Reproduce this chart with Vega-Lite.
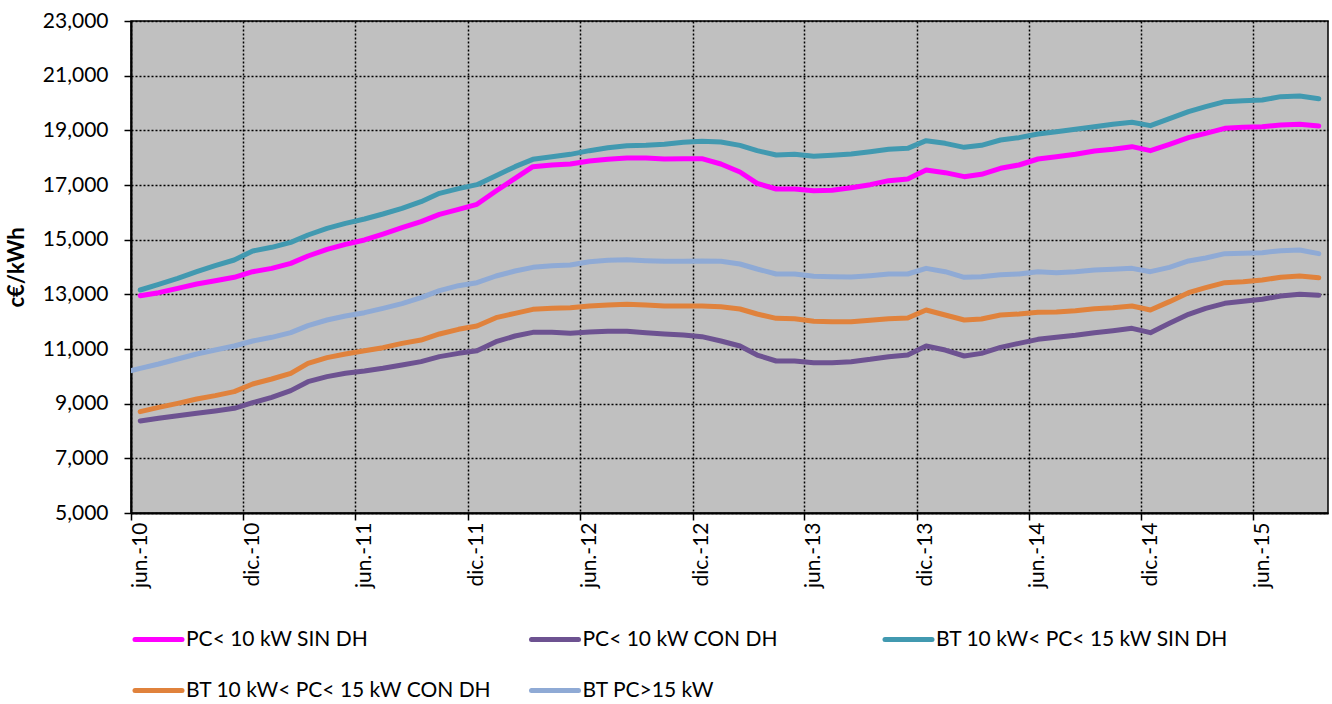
{
"$schema": "https://vega.github.io/schema/vega-lite/v6.json",
"width": 1197, "height": 492,
"autosize": {"type": "none"},
"padding": {"left": 131, "top": 21, "right": 4, "bottom": 191},
"background": "white",
"config": {"font": "Lato", "view": {"fill": "#C0C0C0", "stroke": "#000", "strokeWidth": 1.5},
  "legend": {"orient": "none", "title": null, "direction": "horizontal", "gridAlign": "each", "columnPadding": 28.5, "rowPadding": 15,
    "symbolType": "stroke", "symbolSize": 2209, "symbolStrokeWidth": 5, "labelFontSize": 21, "labelColor": "#000", "labelOffset": 1.5, "labelLimit": 900}},
"datasets": {"rows": [
{"m":"2010-06-16","s":"PC< 10 kW SIN DH","v":12951},{"m":"2010-07-16","s":"PC< 10 kW SIN DH","v":13061},{"m":"2010-08-16","s":"PC< 10 kW SIN DH","v":13220},{"m":"2010-09-16","s":"PC< 10 kW SIN DH","v":13378},{"m":"2010-10-16","s":"PC< 10 kW SIN DH","v":13500},{"m":"2010-11-16","s":"PC< 10 kW SIN DH","v":13622},{"m":"2010-12-16","s":"PC< 10 kW SIN DH","v":13829},{"m":"2011-01-16","s":"PC< 10 kW SIN DH","v":13951},{"m":"2011-02-16","s":"PC< 10 kW SIN DH","v":14134},{"m":"2011-03-16","s":"PC< 10 kW SIN DH","v":14402},{"m":"2011-04-16","s":"PC< 10 kW SIN DH","v":14646},{"m":"2011-05-16","s":"PC< 10 kW SIN DH","v":14829},{"m":"2011-06-16","s":"PC< 10 kW SIN DH","v":14988},{"m":"2011-07-16","s":"PC< 10 kW SIN DH","v":15207},{"m":"2011-08-16","s":"PC< 10 kW SIN DH","v":15439},{"m":"2011-09-16","s":"PC< 10 kW SIN DH","v":15659},{"m":"2011-10-16","s":"PC< 10 kW SIN DH","v":15927},{"m":"2011-11-16","s":"PC< 10 kW SIN DH","v":16110},{"m":"2011-12-16","s":"PC< 10 kW SIN DH","v":16293},{"m":"2012-01-16","s":"PC< 10 kW SIN DH","v":16780},{"m":"2012-02-16","s":"PC< 10 kW SIN DH","v":17244},{"m":"2012-03-16","s":"PC< 10 kW SIN DH","v":17671},{"m":"2012-04-16","s":"PC< 10 kW SIN DH","v":17732},{"m":"2012-05-16","s":"PC< 10 kW SIN DH","v":17768},{"m":"2012-06-16","s":"PC< 10 kW SIN DH","v":17878},{"m":"2012-07-16","s":"PC< 10 kW SIN DH","v":17939},{"m":"2012-08-16","s":"PC< 10 kW SIN DH","v":17988},{"m":"2012-09-16","s":"PC< 10 kW SIN DH","v":17988},{"m":"2012-10-16","s":"PC< 10 kW SIN DH","v":17951},{"m":"2012-11-16","s":"PC< 10 kW SIN DH","v":17963},{"m":"2012-12-16","s":"PC< 10 kW SIN DH","v":17963},{"m":"2013-01-16","s":"PC< 10 kW SIN DH","v":17768},{"m":"2013-02-16","s":"PC< 10 kW SIN DH","v":17476},{"m":"2013-03-16","s":"PC< 10 kW SIN DH","v":17061},{"m":"2013-04-16","s":"PC< 10 kW SIN DH","v":16854},{"m":"2013-05-16","s":"PC< 10 kW SIN DH","v":16854},{"m":"2013-06-16","s":"PC< 10 kW SIN DH","v":16793},{"m":"2013-07-16","s":"PC< 10 kW SIN DH","v":16805},{"m":"2013-08-16","s":"PC< 10 kW SIN DH","v":16902},{"m":"2013-09-16","s":"PC< 10 kW SIN DH","v":17012},{"m":"2013-10-16","s":"PC< 10 kW SIN DH","v":17159},{"m":"2013-11-16","s":"PC< 10 kW SIN DH","v":17220},{"m":"2013-12-16","s":"PC< 10 kW SIN DH","v":17549},{"m":"2014-01-16","s":"PC< 10 kW SIN DH","v":17451},{"m":"2014-02-16","s":"PC< 10 kW SIN DH","v":17305},{"m":"2014-03-16","s":"PC< 10 kW SIN DH","v":17390},{"m":"2014-04-16","s":"PC< 10 kW SIN DH","v":17610},{"m":"2014-05-16","s":"PC< 10 kW SIN DH","v":17732},{"m":"2014-06-16","s":"PC< 10 kW SIN DH","v":17951},{"m":"2014-07-16","s":"PC< 10 kW SIN DH","v":18037},{"m":"2014-08-16","s":"PC< 10 kW SIN DH","v":18122},{"m":"2014-09-16","s":"PC< 10 kW SIN DH","v":18244},{"m":"2014-10-16","s":"PC< 10 kW SIN DH","v":18305},{"m":"2014-11-16","s":"PC< 10 kW SIN DH","v":18402},{"m":"2014-12-16","s":"PC< 10 kW SIN DH","v":18256},{"m":"2015-01-16","s":"PC< 10 kW SIN DH","v":18488},{"m":"2015-02-16","s":"PC< 10 kW SIN DH","v":18732},{"m":"2015-03-16","s":"PC< 10 kW SIN DH","v":18890},{"m":"2015-04-16","s":"PC< 10 kW SIN DH","v":19073},{"m":"2015-05-16","s":"PC< 10 kW SIN DH","v":19110},{"m":"2015-06-16","s":"PC< 10 kW SIN DH","v":19134},{"m":"2015-07-16","s":"PC< 10 kW SIN DH","v":19195},{"m":"2015-08-16","s":"PC< 10 kW SIN DH","v":19220},{"m":"2015-09-16","s":"PC< 10 kW SIN DH","v":19159},
{"m":"2010-06-16","s":"PC< 10 kW CON DH","v":8366},{"m":"2010-07-16","s":"PC< 10 kW CON DH","v":8463},{"m":"2010-08-16","s":"PC< 10 kW CON DH","v":8561},{"m":"2010-09-16","s":"PC< 10 kW CON DH","v":8646},{"m":"2010-10-16","s":"PC< 10 kW CON DH","v":8732},{"m":"2010-11-16","s":"PC< 10 kW CON DH","v":8829},{"m":"2010-12-16","s":"PC< 10 kW CON DH","v":9037},{"m":"2011-01-16","s":"PC< 10 kW CON DH","v":9232},{"m":"2011-02-16","s":"PC< 10 kW CON DH","v":9476},{"m":"2011-03-16","s":"PC< 10 kW CON DH","v":9805},{"m":"2011-04-16","s":"PC< 10 kW CON DH","v":9988},{"m":"2011-05-16","s":"PC< 10 kW CON DH","v":10110},{"m":"2011-06-16","s":"PC< 10 kW CON DH","v":10195},{"m":"2011-07-16","s":"PC< 10 kW CON DH","v":10293},{"m":"2011-08-16","s":"PC< 10 kW CON DH","v":10415},{"m":"2011-09-16","s":"PC< 10 kW CON DH","v":10537},{"m":"2011-10-16","s":"PC< 10 kW CON DH","v":10720},{"m":"2011-11-16","s":"PC< 10 kW CON DH","v":10841},{"m":"2011-12-16","s":"PC< 10 kW CON DH","v":10939},{"m":"2012-01-16","s":"PC< 10 kW CON DH","v":11268},{"m":"2012-02-16","s":"PC< 10 kW CON DH","v":11476},{"m":"2012-03-16","s":"PC< 10 kW CON DH","v":11610},{"m":"2012-04-16","s":"PC< 10 kW CON DH","v":11610},{"m":"2012-05-16","s":"PC< 10 kW CON DH","v":11573},{"m":"2012-06-16","s":"PC< 10 kW CON DH","v":11622},{"m":"2012-07-16","s":"PC< 10 kW CON DH","v":11646},{"m":"2012-08-16","s":"PC< 10 kW CON DH","v":11646},{"m":"2012-09-16","s":"PC< 10 kW CON DH","v":11598},{"m":"2012-10-16","s":"PC< 10 kW CON DH","v":11549},{"m":"2012-11-16","s":"PC< 10 kW CON DH","v":11512},{"m":"2012-12-16","s":"PC< 10 kW CON DH","v":11451},{"m":"2013-01-16","s":"PC< 10 kW CON DH","v":11293},{"m":"2013-02-16","s":"PC< 10 kW CON DH","v":11110},{"m":"2013-03-16","s":"PC< 10 kW CON DH","v":10780},{"m":"2013-04-16","s":"PC< 10 kW CON DH","v":10561},{"m":"2013-05-16","s":"PC< 10 kW CON DH","v":10561},{"m":"2013-06-16","s":"PC< 10 kW CON DH","v":10500},{"m":"2013-07-16","s":"PC< 10 kW CON DH","v":10500},{"m":"2013-08-16","s":"PC< 10 kW CON DH","v":10537},{"m":"2013-09-16","s":"PC< 10 kW CON DH","v":10622},{"m":"2013-10-16","s":"PC< 10 kW CON DH","v":10720},{"m":"2013-11-16","s":"PC< 10 kW CON DH","v":10780},{"m":"2013-12-16","s":"PC< 10 kW CON DH","v":11110},{"m":"2014-01-16","s":"PC< 10 kW CON DH","v":10963},{"m":"2014-02-16","s":"PC< 10 kW CON DH","v":10744},{"m":"2014-03-16","s":"PC< 10 kW CON DH","v":10841},{"m":"2014-04-16","s":"PC< 10 kW CON DH","v":11061},{"m":"2014-05-16","s":"PC< 10 kW CON DH","v":11207},{"m":"2014-06-16","s":"PC< 10 kW CON DH","v":11354},{"m":"2014-07-16","s":"PC< 10 kW CON DH","v":11427},{"m":"2014-08-16","s":"PC< 10 kW CON DH","v":11500},{"m":"2014-09-16","s":"PC< 10 kW CON DH","v":11598},{"m":"2014-10-16","s":"PC< 10 kW CON DH","v":11671},{"m":"2014-11-16","s":"PC< 10 kW CON DH","v":11756},{"m":"2014-12-16","s":"PC< 10 kW CON DH","v":11598},{"m":"2015-01-16","s":"PC< 10 kW CON DH","v":11939},{"m":"2015-02-16","s":"PC< 10 kW CON DH","v":12268},{"m":"2015-03-16","s":"PC< 10 kW CON DH","v":12488},{"m":"2015-04-16","s":"PC< 10 kW CON DH","v":12671},{"m":"2015-05-16","s":"PC< 10 kW CON DH","v":12744},{"m":"2015-06-16","s":"PC< 10 kW CON DH","v":12817},{"m":"2015-07-16","s":"PC< 10 kW CON DH","v":12939},{"m":"2015-08-16","s":"PC< 10 kW CON DH","v":13000},{"m":"2015-09-16","s":"PC< 10 kW CON DH","v":12963},
{"m":"2010-06-16","s":"BT 10 kW< PC< 15 kW SIN DH","v":13159},{"m":"2010-07-16","s":"BT 10 kW< PC< 15 kW SIN DH","v":13366},{"m":"2010-08-16","s":"BT 10 kW< PC< 15 kW SIN DH","v":13585},{"m":"2010-09-16","s":"BT 10 kW< PC< 15 kW SIN DH","v":13829},{"m":"2010-10-16","s":"BT 10 kW< PC< 15 kW SIN DH","v":14049},{"m":"2010-11-16","s":"BT 10 kW< PC< 15 kW SIN DH","v":14256},{"m":"2010-12-16","s":"BT 10 kW< PC< 15 kW SIN DH","v":14585},{"m":"2011-01-16","s":"BT 10 kW< PC< 15 kW SIN DH","v":14720},{"m":"2011-02-16","s":"BT 10 kW< PC< 15 kW SIN DH","v":14902},{"m":"2011-03-16","s":"BT 10 kW< PC< 15 kW SIN DH","v":15171},{"m":"2011-04-16","s":"BT 10 kW< PC< 15 kW SIN DH","v":15415},{"m":"2011-05-16","s":"BT 10 kW< PC< 15 kW SIN DH","v":15598},{"m":"2011-06-16","s":"BT 10 kW< PC< 15 kW SIN DH","v":15756},{"m":"2011-07-16","s":"BT 10 kW< PC< 15 kW SIN DH","v":15939},{"m":"2011-08-16","s":"BT 10 kW< PC< 15 kW SIN DH","v":16146},{"m":"2011-09-16","s":"BT 10 kW< PC< 15 kW SIN DH","v":16390},{"m":"2011-10-16","s":"BT 10 kW< PC< 15 kW SIN DH","v":16695},{"m":"2011-11-16","s":"BT 10 kW< PC< 15 kW SIN DH","v":16866},{"m":"2011-12-16","s":"BT 10 kW< PC< 15 kW SIN DH","v":17012},{"m":"2012-01-16","s":"BT 10 kW< PC< 15 kW SIN DH","v":17341},{"m":"2012-02-16","s":"BT 10 kW< PC< 15 kW SIN DH","v":17671},{"m":"2012-03-16","s":"BT 10 kW< PC< 15 kW SIN DH","v":17939},{"m":"2012-04-16","s":"BT 10 kW< PC< 15 kW SIN DH","v":18037},{"m":"2012-05-16","s":"BT 10 kW< PC< 15 kW SIN DH","v":18122},{"m":"2012-06-16","s":"BT 10 kW< PC< 15 kW SIN DH","v":18256},{"m":"2012-07-16","s":"BT 10 kW< PC< 15 kW SIN DH","v":18366},{"m":"2012-08-16","s":"BT 10 kW< PC< 15 kW SIN DH","v":18439},{"m":"2012-09-16","s":"BT 10 kW< PC< 15 kW SIN DH","v":18451},{"m":"2012-10-16","s":"BT 10 kW< PC< 15 kW SIN DH","v":18488},{"m":"2012-11-16","s":"BT 10 kW< PC< 15 kW SIN DH","v":18561},{"m":"2012-12-16","s":"BT 10 kW< PC< 15 kW SIN DH","v":18598},{"m":"2013-01-16","s":"BT 10 kW< PC< 15 kW SIN DH","v":18573},{"m":"2013-02-16","s":"BT 10 kW< PC< 15 kW SIN DH","v":18451},{"m":"2013-03-16","s":"BT 10 kW< PC< 15 kW SIN DH","v":18256},{"m":"2013-04-16","s":"BT 10 kW< PC< 15 kW SIN DH","v":18098},{"m":"2013-05-16","s":"BT 10 kW< PC< 15 kW SIN DH","v":18122},{"m":"2013-06-16","s":"BT 10 kW< PC< 15 kW SIN DH","v":18049},{"m":"2013-07-16","s":"BT 10 kW< PC< 15 kW SIN DH","v":18085},{"m":"2013-08-16","s":"BT 10 kW< PC< 15 kW SIN DH","v":18134},{"m":"2013-09-16","s":"BT 10 kW< PC< 15 kW SIN DH","v":18220},{"m":"2013-10-16","s":"BT 10 kW< PC< 15 kW SIN DH","v":18305},{"m":"2013-11-16","s":"BT 10 kW< PC< 15 kW SIN DH","v":18341},{"m":"2013-12-16","s":"BT 10 kW< PC< 15 kW SIN DH","v":18622},{"m":"2014-01-16","s":"BT 10 kW< PC< 15 kW SIN DH","v":18524},{"m":"2014-02-16","s":"BT 10 kW< PC< 15 kW SIN DH","v":18378},{"m":"2014-03-16","s":"BT 10 kW< PC< 15 kW SIN DH","v":18451},{"m":"2014-04-16","s":"BT 10 kW< PC< 15 kW SIN DH","v":18646},{"m":"2014-05-16","s":"BT 10 kW< PC< 15 kW SIN DH","v":18732},{"m":"2014-06-16","s":"BT 10 kW< PC< 15 kW SIN DH","v":18866},{"m":"2014-07-16","s":"BT 10 kW< PC< 15 kW SIN DH","v":18951},{"m":"2014-08-16","s":"BT 10 kW< PC< 15 kW SIN DH","v":19037},{"m":"2014-09-16","s":"BT 10 kW< PC< 15 kW SIN DH","v":19134},{"m":"2014-10-16","s":"BT 10 kW< PC< 15 kW SIN DH","v":19220},{"m":"2014-11-16","s":"BT 10 kW< PC< 15 kW SIN DH","v":19293},{"m":"2014-12-16","s":"BT 10 kW< PC< 15 kW SIN DH","v":19171},{"m":"2015-01-16","s":"BT 10 kW< PC< 15 kW SIN DH","v":19427},{"m":"2015-02-16","s":"BT 10 kW< PC< 15 kW SIN DH","v":19683},{"m":"2015-03-16","s":"BT 10 kW< PC< 15 kW SIN DH","v":19866},{"m":"2015-04-16","s":"BT 10 kW< PC< 15 kW SIN DH","v":20049},{"m":"2015-05-16","s":"BT 10 kW< PC< 15 kW SIN DH","v":20085},{"m":"2015-06-16","s":"BT 10 kW< PC< 15 kW SIN DH","v":20110},{"m":"2015-07-16","s":"BT 10 kW< PC< 15 kW SIN DH","v":20232},{"m":"2015-08-16","s":"BT 10 kW< PC< 15 kW SIN DH","v":20256},{"m":"2015-09-16","s":"BT 10 kW< PC< 15 kW SIN DH","v":20159},
{"m":"2010-06-16","s":"BT 10 kW< PC< 15 kW CON DH","v":8707},{"m":"2010-07-16","s":"BT 10 kW< PC< 15 kW CON DH","v":8866},{"m":"2010-08-16","s":"BT 10 kW< PC< 15 kW CON DH","v":9012},{"m":"2010-09-16","s":"BT 10 kW< PC< 15 kW CON DH","v":9171},{"m":"2010-10-16","s":"BT 10 kW< PC< 15 kW CON DH","v":9293},{"m":"2010-11-16","s":"BT 10 kW< PC< 15 kW CON DH","v":9439},{"m":"2010-12-16","s":"BT 10 kW< PC< 15 kW CON DH","v":9720},{"m":"2011-01-16","s":"BT 10 kW< PC< 15 kW CON DH","v":9902},{"m":"2011-02-16","s":"BT 10 kW< PC< 15 kW CON DH","v":10110},{"m":"2011-03-16","s":"BT 10 kW< PC< 15 kW CON DH","v":10476},{"m":"2011-04-16","s":"BT 10 kW< PC< 15 kW CON DH","v":10683},{"m":"2011-05-16","s":"BT 10 kW< PC< 15 kW CON DH","v":10817},{"m":"2011-06-16","s":"BT 10 kW< PC< 15 kW CON DH","v":10939},{"m":"2011-07-16","s":"BT 10 kW< PC< 15 kW CON DH","v":11049},{"m":"2011-08-16","s":"BT 10 kW< PC< 15 kW CON DH","v":11207},{"m":"2011-09-16","s":"BT 10 kW< PC< 15 kW CON DH","v":11329},{"m":"2011-10-16","s":"BT 10 kW< PC< 15 kW CON DH","v":11549},{"m":"2011-11-16","s":"BT 10 kW< PC< 15 kW CON DH","v":11720},{"m":"2011-12-16","s":"BT 10 kW< PC< 15 kW CON DH","v":11841},{"m":"2012-01-16","s":"BT 10 kW< PC< 15 kW CON DH","v":12146},{"m":"2012-02-16","s":"BT 10 kW< PC< 15 kW CON DH","v":12305},{"m":"2012-03-16","s":"BT 10 kW< PC< 15 kW CON DH","v":12451},{"m":"2012-04-16","s":"BT 10 kW< PC< 15 kW CON DH","v":12488},{"m":"2012-05-16","s":"BT 10 kW< PC< 15 kW CON DH","v":12512},{"m":"2012-06-16","s":"BT 10 kW< PC< 15 kW CON DH","v":12573},{"m":"2012-07-16","s":"BT 10 kW< PC< 15 kW CON DH","v":12610},{"m":"2012-08-16","s":"BT 10 kW< PC< 15 kW CON DH","v":12634},{"m":"2012-09-16","s":"BT 10 kW< PC< 15 kW CON DH","v":12610},{"m":"2012-10-16","s":"BT 10 kW< PC< 15 kW CON DH","v":12573},{"m":"2012-11-16","s":"BT 10 kW< PC< 15 kW CON DH","v":12573},{"m":"2012-12-16","s":"BT 10 kW< PC< 15 kW CON DH","v":12573},{"m":"2013-01-16","s":"BT 10 kW< PC< 15 kW CON DH","v":12549},{"m":"2013-02-16","s":"BT 10 kW< PC< 15 kW CON DH","v":12463},{"m":"2013-03-16","s":"BT 10 kW< PC< 15 kW CON DH","v":12280},{"m":"2013-04-16","s":"BT 10 kW< PC< 15 kW CON DH","v":12122},{"m":"2013-05-16","s":"BT 10 kW< PC< 15 kW CON DH","v":12110},{"m":"2013-06-16","s":"BT 10 kW< PC< 15 kW CON DH","v":12012},{"m":"2013-07-16","s":"BT 10 kW< PC< 15 kW CON DH","v":12000},{"m":"2013-08-16","s":"BT 10 kW< PC< 15 kW CON DH","v":12000},{"m":"2013-09-16","s":"BT 10 kW< PC< 15 kW CON DH","v":12049},{"m":"2013-10-16","s":"BT 10 kW< PC< 15 kW CON DH","v":12110},{"m":"2013-11-16","s":"BT 10 kW< PC< 15 kW CON DH","v":12134},{"m":"2013-12-16","s":"BT 10 kW< PC< 15 kW CON DH","v":12427},{"m":"2014-01-16","s":"BT 10 kW< PC< 15 kW CON DH","v":12244},{"m":"2014-02-16","s":"BT 10 kW< PC< 15 kW CON DH","v":12061},{"m":"2014-03-16","s":"BT 10 kW< PC< 15 kW CON DH","v":12098},{"m":"2014-04-16","s":"BT 10 kW< PC< 15 kW CON DH","v":12244},{"m":"2014-05-16","s":"BT 10 kW< PC< 15 kW CON DH","v":12280},{"m":"2014-06-16","s":"BT 10 kW< PC< 15 kW CON DH","v":12341},{"m":"2014-07-16","s":"BT 10 kW< PC< 15 kW CON DH","v":12354},{"m":"2014-08-16","s":"BT 10 kW< PC< 15 kW CON DH","v":12402},{"m":"2014-09-16","s":"BT 10 kW< PC< 15 kW CON DH","v":12476},{"m":"2014-10-16","s":"BT 10 kW< PC< 15 kW CON DH","v":12512},{"m":"2014-11-16","s":"BT 10 kW< PC< 15 kW CON DH","v":12573},{"m":"2014-12-16","s":"BT 10 kW< PC< 15 kW CON DH","v":12427},{"m":"2015-01-16","s":"BT 10 kW< PC< 15 kW CON DH","v":12732},{"m":"2015-02-16","s":"BT 10 kW< PC< 15 kW CON DH","v":13061},{"m":"2015-03-16","s":"BT 10 kW< PC< 15 kW CON DH","v":13244},{"m":"2015-04-16","s":"BT 10 kW< PC< 15 kW CON DH","v":13427},{"m":"2015-05-16","s":"BT 10 kW< PC< 15 kW CON DH","v":13463},{"m":"2015-06-16","s":"BT 10 kW< PC< 15 kW CON DH","v":13524},{"m":"2015-07-16","s":"BT 10 kW< PC< 15 kW CON DH","v":13622},{"m":"2015-08-16","s":"BT 10 kW< PC< 15 kW CON DH","v":13671},{"m":"2015-09-16","s":"BT 10 kW< PC< 15 kW CON DH","v":13610},
{"m":"2010-05-16","s":"BT PC>15 kW","v":10115},{"m":"2010-06-16","s":"BT PC>15 kW","v":10293},{"m":"2010-07-16","s":"BT PC>15 kW","v":10451},{"m":"2010-08-16","s":"BT PC>15 kW","v":10634},{"m":"2010-09-16","s":"BT PC>15 kW","v":10817},{"m":"2010-10-16","s":"BT PC>15 kW","v":10963},{"m":"2010-11-16","s":"BT PC>15 kW","v":11110},{"m":"2010-12-16","s":"BT PC>15 kW","v":11293},{"m":"2011-01-16","s":"BT PC>15 kW","v":11427},{"m":"2011-02-16","s":"BT PC>15 kW","v":11598},{"m":"2011-03-16","s":"BT PC>15 kW","v":11854},{"m":"2011-04-16","s":"BT PC>15 kW","v":12061},{"m":"2011-05-16","s":"BT PC>15 kW","v":12207},{"m":"2011-06-16","s":"BT PC>15 kW","v":12329},{"m":"2011-07-16","s":"BT PC>15 kW","v":12488},{"m":"2011-08-16","s":"BT PC>15 kW","v":12659},{"m":"2011-09-16","s":"BT PC>15 kW","v":12878},{"m":"2011-10-16","s":"BT PC>15 kW","v":13134},{"m":"2011-11-16","s":"BT PC>15 kW","v":13317},{"m":"2011-12-16","s":"BT PC>15 kW","v":13427},{"m":"2012-01-16","s":"BT PC>15 kW","v":13671},{"m":"2012-02-16","s":"BT PC>15 kW","v":13854},{"m":"2012-03-16","s":"BT PC>15 kW","v":13988},{"m":"2012-04-16","s":"BT PC>15 kW","v":14049},{"m":"2012-05-16","s":"BT PC>15 kW","v":14073},{"m":"2012-06-16","s":"BT PC>15 kW","v":14195},{"m":"2012-07-16","s":"BT PC>15 kW","v":14244},{"m":"2012-08-16","s":"BT PC>15 kW","v":14268},{"m":"2012-09-16","s":"BT PC>15 kW","v":14232},{"m":"2012-10-16","s":"BT PC>15 kW","v":14207},{"m":"2012-11-16","s":"BT PC>15 kW","v":14207},{"m":"2012-12-16","s":"BT PC>15 kW","v":14220},{"m":"2013-01-16","s":"BT PC>15 kW","v":14207},{"m":"2013-02-16","s":"BT PC>15 kW","v":14110},{"m":"2013-03-16","s":"BT PC>15 kW","v":13927},{"m":"2013-04-16","s":"BT PC>15 kW","v":13744},{"m":"2013-05-16","s":"BT PC>15 kW","v":13744},{"m":"2013-06-16","s":"BT PC>15 kW","v":13659},{"m":"2013-07-16","s":"BT PC>15 kW","v":13646},{"m":"2013-08-16","s":"BT PC>15 kW","v":13634},{"m":"2013-09-16","s":"BT PC>15 kW","v":13683},{"m":"2013-10-16","s":"BT PC>15 kW","v":13744},{"m":"2013-11-16","s":"BT PC>15 kW","v":13744},{"m":"2013-12-16","s":"BT PC>15 kW","v":13951},{"m":"2014-01-16","s":"BT PC>15 kW","v":13829},{"m":"2014-02-16","s":"BT PC>15 kW","v":13622},{"m":"2014-03-16","s":"BT PC>15 kW","v":13646},{"m":"2014-04-16","s":"BT PC>15 kW","v":13720},{"m":"2014-05-16","s":"BT PC>15 kW","v":13744},{"m":"2014-06-16","s":"BT PC>15 kW","v":13829},{"m":"2014-07-16","s":"BT PC>15 kW","v":13793},{"m":"2014-08-16","s":"BT PC>15 kW","v":13829},{"m":"2014-09-16","s":"BT PC>15 kW","v":13890},{"m":"2014-10-16","s":"BT PC>15 kW","v":13915},{"m":"2014-11-16","s":"BT PC>15 kW","v":13951},{"m":"2014-12-16","s":"BT PC>15 kW","v":13829},{"m":"2015-01-16","s":"BT PC>15 kW","v":13988},{"m":"2015-02-16","s":"BT PC>15 kW","v":14220},{"m":"2015-03-16","s":"BT PC>15 kW","v":14329},{"m":"2015-04-16","s":"BT PC>15 kW","v":14488},{"m":"2015-05-16","s":"BT PC>15 kW","v":14500},{"m":"2015-06-16","s":"BT PC>15 kW","v":14524},{"m":"2015-07-16","s":"BT PC>15 kW","v":14598},{"m":"2015-08-16","s":"BT PC>15 kW","v":14622},{"m":"2015-09-16","s":"BT PC>15 kW","v":14488}
]},
"data": {"name": "rows"},
"encoding": {
  "x": {"field": "m", "type": "temporal",
    "scale": {"type": "utc", "domain": [{"year": 2010, "month": 6, "date": 1, "utc": true}, {"year": 2015, "month": 10, "date": 1, "utc": true}]},
    "axis": {"title": null,
      "values": [{"year": 2010, "month": 6, "date": 1, "utc": true}, {"year": 2010, "month": 12, "date": 1, "utc": true}, {"year": 2011, "month": 6, "date": 1, "utc": true}, {"year": 2011, "month": 12, "date": 1, "utc": true}, {"year": 2012, "month": 6, "date": 1, "utc": true}, {"year": 2012, "month": 12, "date": 1, "utc": true}, {"year": 2013, "month": 6, "date": 1, "utc": true}, {"year": 2013, "month": 12, "date": 1, "utc": true}, {"year": 2014, "month": 6, "date": 1, "utc": true}, {"year": 2014, "month": 12, "date": 1, "utc": true}, {"year": 2015, "month": 6, "date": 1, "utc": true}],
      "labelExpr": "(utcmonth(datum.value) == 5 ? 'jun.-' : 'dic.-') + utcFormat(datum.value, '%y')",
      "labelAngle": 270, "labelOffset": 9, "labelFontSize": 21, "labelColor": "#000", "labelPadding": 2, "labelOverlap": false,
      "tickSize": 7, "tickColor": "#000", "tickWidth": 1.5,
      "domainColor": "#000", "domainWidth": 2,
      "grid": true, "gridColor": "#000", "gridDash": [2, 2], "gridWidth": 1.5, "gridOpacity": 1}},
  "y": {"field": "v", "type": "quantitative",
    "scale": {"domain": [5000, 23000], "nice": false, "zero": false},
    "axis": {"title": "c€/kWh", "titleFontSize": 22, "titleFontWeight": "bold", "titleColor": "#000", "titlePadding": 14,
      "values": [5000, 7000, 9000, 11000, 13000, 15000, 17000, 19000, 21000, 23000], "format": ",d",
      "labelFontSize": 21, "labelColor": "#000", "labelPadding": 16,
      "tickSize": 7, "tickColor": "#000", "tickWidth": 1.5,
      "domainColor": "#000", "domainWidth": 2,
      "grid": true, "gridColor": "#000", "gridDash": [2, 2], "gridWidth": 1.5, "gridOpacity": 1}}
},
"layer": [
  {"transform": [{"filter": "datum.s != 'BT 10 kW< PC< 15 kW SIN DH'"}],
   "mark": {"type": "line", "strokeWidth": 5, "strokeCap": "round", "strokeJoin": "round", "clip": true},
   "encoding": {"color": {"field": "s", "type": "nominal",
     "scale": {"domain": ["PC< 10 kW SIN DH", "PC< 10 kW CON DH", "BT 10 kW< PC< 15 kW CON DH", "BT PC>15 kW"],
       "range": ["#FF00FF", "#6D5291", "#E0823C", "#8FAAD5"]},
     "legend": {"legendX": 1.5, "legendY": 592.5, "columns": 2,
       "encode": {"symbols": {"update": {"strokeCap": {"value": "round"}}}}}}}},
  {"transform": [{"filter": "datum.s == 'BT 10 kW< PC< 15 kW SIN DH'"}],
   "mark": {"type": "line", "strokeWidth": 5, "strokeCap": "round", "strokeJoin": "round", "clip": true},
   "encoding": {"stroke": {"field": "s", "type": "nominal",
     "scale": {"domain": ["BT 10 kW< PC< 15 kW SIN DH"], "range": ["#4199B0"]},
     "legend": {"legendX": 751.5, "legendY": 592.5, "columns": 1,
       "encode": {"symbols": {"update": {"strokeCap": {"value": "round"}}}}}}}}
]
}
